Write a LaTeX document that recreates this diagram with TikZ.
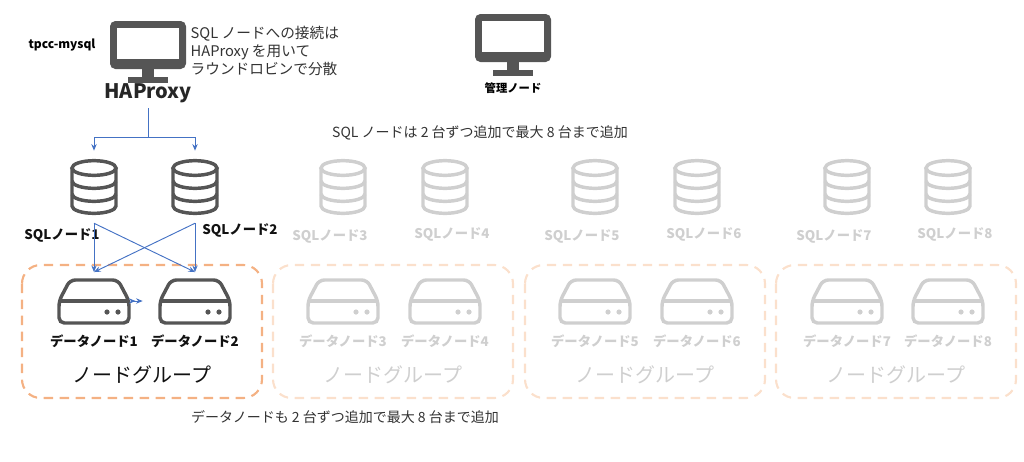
\documentclass[tikz,border=0pt]{standalone}
\usepackage{fontspec}
\setmainfont{Noto Sans CJK JP}
\usetikzlibrary{arrows.meta}
\definecolor{dk}{HTML}{555555}
\definecolor{lg}{HTML}{CFCFCF}
\definecolor{bl}{HTML}{4472C4}
\definecolor{og}{HTML}{F4B183}
\definecolor{lo}{HTML}{FBE0CC}
\definecolor{tk}{HTML}{111111}
\tikzset{
 lbl/.style={font=\bfseries\fontsize{10}{12}\selectfont},
 txt/.style={font=\fontsize{10.5}{13}\selectfont, text=black!80},
 grp/.style={draw, dash pattern=on 7pt off 5pt, line width=1.6pt, rounded corners=14pt},
 con/.style={bl, line width=0.7pt, -{Stealth[length=5pt,width=4pt]}},
 anchorbox/.style={inner sep=0, minimum width=50, minimum height=50},
 pics/db/.style={code={
  \begin{scope}[draw=#1, line width=2.6pt]
   \draw (0,-19) ellipse [x radius=16.5pt, y radius=5.5pt];
   \draw (-22,-19) -- (-22,19) arc[start angle=180,end angle=360,x radius=16.5pt,y radius=5.5pt] -- (22,-19);
   \draw (-22,-6) arc[start angle=180,end angle=360,x radius=16.5pt,y radius=5.5pt];
   \draw (-22,7) arc[start angle=180,end angle=360,x radius=16.5pt,y radius=5.5pt];
  \end{scope}}},
 pics/srv/.style={code={
  \begin{scope}[draw=#1, line width=2.6pt, rounded corners=4pt]
   \draw (-35,0) -- (-24,-21) -- (24,-21) -- (35,0) -- (35,22) -- (-35,22) -- cycle;
   \draw[sharp corners] (-35,0) -- (35,0);
   \fill[#1] (13,11) circle (2.6) (24,11) circle (2.6);
  \end{scope}}},
 pics/mon/.style={code={
  \fill[#1, rounded corners=4pt] (-38,-24) rectangle (38,24);
  \fill[white] (-31,-17) rectangle (31,14);
  \fill[#1] (-6,24) rectangle (6,32);
  \fill[#1] (-20,32) rectangle (20,38);}}
}
\begin{document}
\begin{tikzpicture}[x=0.75pt,y=-0.75pt]
\useasboundingbox (0,0) rectangle (1024,461);
% monitors
\pic at (148,45) {mon=dk};
\node[anchorbox] (hap) at (148,50) {};
\node[font=\bfseries\fontsize{15}{18}\selectfont, text=black!85] (haplbl) at (148,93) {HAProxy};
\node[font=\bfseries\fontsize{9}{11}\selectfont] (tpcc) at (62,45) {tpcc-mysql};
\node[txt, anchor=north west, align=left, font=\fontsize{11}{13.5}\selectfont] (note) at (186,21) {SQL ノードへの接続は\\HAProxy を用いて\\ラウンドロビンで分散};
\pic at (513,38) {mon=dk};
\node[font=\bfseries\fontsize{8.5}{10}\selectfont] (mgr) at (513,88) {管理ノード};
\node[txt] (sqlnote) at (480,133) {SQL ノードは 2 台ずつ追加で最大 8 台まで追加};
\node[txt] (dnnote) at (345,417) {データノードも 2 台ずつ追加で最大 8 台まで追加};
% groups
\foreach \x/\c/\t/\n in {22/og/tk/1,273/lo/lg/2,525/lo/lg/3,776/lo/lg/4}{
 \draw[grp, draw=\c] (\x,265) rectangle ++(240,133);
 \node[font=\fontsize{15}{18}\selectfont, text=\t] (grp\n) at (\x+120,375) {ノードグループ};
}
% DBs and servers
\foreach \i/\x/\c/\t/\ly/\lx in {1/94/dk/tk/235/62,2/195/dk/tk/230/240,3/343/lg/lg/236/330,4/445/lg/lg/234/452,5/595/lg/lg/236/582,6/697/lg/lg/234/704,7/847/lg/lg/236/834,8/948/lg/lg/234/955}{
 \pic at (\x,187) {db=\c};
 \node[inner sep=0, minimum width=44, minimum height=54] (db\i) at (\x,187) {};
 \node[lbl, text=\t] (dbl\i) at (\lx,\ly) {SQLノード\i};
 \pic at (\x,301) {srv=\c};
 \node[inner sep=0, minimum width=70, minimum height=43] (sv\i) at (\x,301) {};
 \node[lbl, text=\t] (svl\i) at (\x,341) {データノード\i};
}
% connectors
\coordinate (split) at (148,137);
\draw[bl, line width=0.7pt] (hap.south |- 0,108) -- (split);
\draw[con] (split) -| (db1.north);
\draw[con] (split) -| (db2.north);
\draw[con] (db1.south) -- (sv1.north);
\draw[con] (db1.south) -- (sv2.north);
\draw[con] (db2.south) -- (sv2.north);
\draw[con] (db2.south) -- (sv1.north);
\draw[bl, line width=0.7pt, {Stealth[length=5pt,width=4pt]}-{Stealth[length=5pt,width=4pt]}, shorten <=4pt, shorten >=4pt] (sv1.east) -- (sv2.west);
\end{tikzpicture}
\end{document}
